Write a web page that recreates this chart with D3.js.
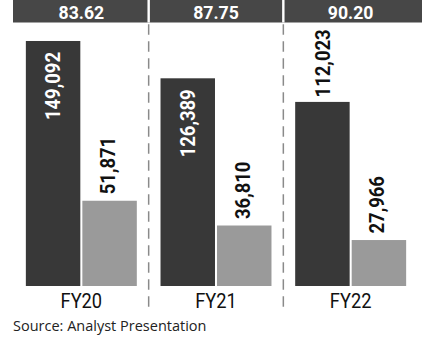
<!DOCTYPE html>
<html>
<head>
<meta charset="utf-8">
<script src="https://cdn.jsdelivr.net/npm/d3@7"></script>
<style>
  html, body { margin: 0; padding: 0; background: #fff; }
  svg { display: block; }
  text { font-family: Roboto, "Noto Sans", sans-serif; }
  text.src { font-family: "Open Sans", Roboto, sans-serif; }
</style>
</head>
<body>
<svg id="chart" width="422" height="342"></svg>
<script>
// Fiscal years and their headline figures
const years = ["FY20", "FY21", "FY22"];
const headline = ["83.62", "87.75", "90.20"];
// Two series per year
const seriesA = [149092, 126389, 112023];
const seriesB = [51871, 36810, 27966];
// Whether the first series' label sits inside its bar
const labelInside = [true, true, false];
const source = "Source: Analyst Presentation";

const W = 422, H = 342;
const svg = d3.select("#chart");

const x = d3.scaleBand().domain(years).range([14, 418])
  .paddingInner(0.176).paddingOuter(0.088);
const sub = d3.scaleBand().domain(["a", "b"]).range([0, x.bandwidth()])
  .paddingInner(0.036);
const y = d3.scaleLinear().domain([0, 150000]).range([286, 39.5]);

const rows = years.map((yr, i) => ({
  yr, head: headline[i], a: seriesA[i], b: seriesB[i], inside: labelInside[i]
}));

// header band
svg.append("rect").attr("x", 13).attr("y", 0).attr("width", W - 13).attr("height", 22.5)
  .attr("fill", "#474747");

const step = x.step();
const dividers = years.slice(1).map(yr => x(yr) - (step - x.bandwidth()) / 2);

svg.selectAll("rect.gap").data(dividers).join("rect")
  .attr("class", "gap")
  .attr("x", d => d - 1.2).attr("y", 0).attr("width", 2.4).attr("height", 22.5)
  .attr("fill", "#fff");

svg.selectAll("line.div").data(dividers).join("line")
  .attr("class", "div")
  .attr("x1", d => d).attr("x2", d => d)
  .attr("y1", 24.3).attr("y2", 312)
  .attr("stroke", "#8a8a8a").attr("stroke-width", 1.5)
  .attr("stroke-dasharray", "10.5,6.5");

// condensed text: horizontal squeeze
const COND = 0.9;

svg.selectAll("text.head").data(rows).join("text")
  .attr("class", "head")
  .attr("transform", d => `translate(${x(d.yr) + x.bandwidth() / 2},18.6) scale(0.93,1)`)
  .attr("text-anchor", "middle")
  .attr("fill", "#fff")
  .attr("font-weight", 700)
  .attr("font-size", 19)
  .text(d => d.head);

const g = svg.selectAll("g.grp").data(rows).join("g")
  .attr("class", "grp")
  .attr("transform", d => `translate(${x(d.yr)},0)`);

g.append("rect")
  .attr("x", sub("a")).attr("width", sub.bandwidth())
  .attr("y", d => y(d.a)).attr("height", d => y(0) - y(d.a))
  .attr("fill", "#383838");

g.append("rect")
  .attr("x", sub("b")).attr("width", sub.bandwidth())
  .attr("y", d => y(d.b)).attr("height", d => y(0) - y(d.b))
  .attr("fill", "#9a9a9a");

const fmt = d3.format(",");

// rotated value labels
g.append("text")
  .attr("transform", d => {
    const cx = sub("a") + sub.bandwidth() / 2;
    const yy = d.inside ? y(d.a) + 11 : y(d.a) - 4.5;
    return `translate(${cx},${yy}) rotate(-90) scale(${COND},1)`;
  })
  .attr("dy", "0.36em")
  .attr("text-anchor", d => d.inside ? "end" : "start")
  .attr("fill", d => d.inside ? "#fff" : "#111")
  .attr("font-weight", 700)
  .attr("font-size", 20.5)
  .text(d => fmt(d.a));

g.append("text")
  .attr("transform", d => {
    const cx = sub("b") + sub.bandwidth() / 2 - 2;
    return `translate(${cx},${y(d.b) - 6.5}) rotate(-90) scale(${COND},1)`;
  })
  .attr("dy", "0.36em")
  .attr("text-anchor", "start")
  .attr("fill", "#111")
  .attr("font-weight", 700)
  .attr("font-size", 20.5)
  .text(d => fmt(d.b));

// category axis labels
svg.selectAll("text.cat").data(rows).join("text")
  .attr("class", "cat")
  .attr("transform", d => `translate(${x(d.yr) + x.bandwidth() / 2},308) scale(0.87,1)`)
  .attr("text-anchor", "middle")
  .attr("fill", "#111")
  .attr("font-size", 21)
  .text(d => d.yr);

svg.append("text")
  .attr("class", "src")
  .attr("x", 13).attr("y", 331)
  .attr("fill", "#222")
  .attr("font-size", 14.5)
  .text(source);
</script>
</body>
</html>
